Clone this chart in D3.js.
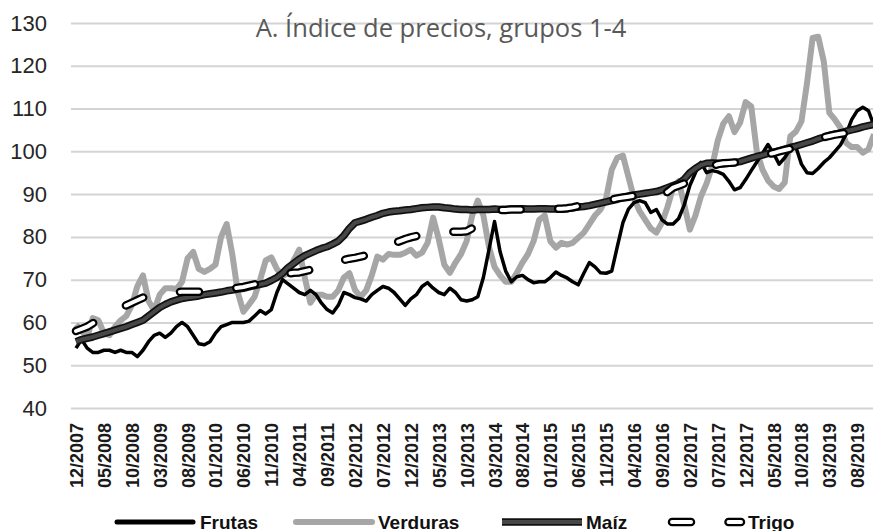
<!DOCTYPE html>
<html>
<head>
<meta charset="utf-8">
<script src="https://cdn.jsdelivr.net/npm/d3@7"></script>
<style>
  body { margin: 0; background: #fff; }
  svg { display: block; }
</style>
</head>
<body>
<script>
var w = 873;
var h = 531;

// ----- DATA -----
var title = "A. Índice de precios, grupos 1-4";

// categories: monthly, 12/2007 .. 11/2019
var startYear = 2007, startMonth = 12, nMonths = 144;
var months = [];
for (var k = 0; k < nMonths; k++) {
  var m = (startMonth - 1 + k) % 12 + 1;
  var yr = startYear + Math.floor((startMonth - 1 + k) / 12);
  months.push((m < 10 ? "0" + m : "" + m) + "/" + yr);
}

var tickLabels = ["12/2007", "05/2008", "10/2008", "03/2009", "08/2009", "01/2010",
  "06/2010", "11/2010", "04/2011", "09/2011", "02/2012", "07/2012", "12/2012",
  "05/2013", "10/2013", "03/2014", "08/2014", "01/2015", "06/2015", "11/2015",
  "04/2016", "09/2016", "02/2017", "07/2017", "12/2017", "05/2018", "10/2018",
  "03/2019", "08/2019"];

var yTicks = [40, 50, 60, 70, 80, 90, 100, 110, 120, 130];

var frutas = [
  54, 56, 54, 53, 53, 53.5, 53.5, 53, 53.5, 53,
  53, 52, 53.5, 55.5, 57, 57.5, 56.5, 57.5, 59, 60,
  59, 57, 55, 54.8, 55.5, 57.5, 59, 59.5, 60, 60,
  60, 60.3, 61.5, 62.8, 62, 63, 67, 70, 69, 68,
  67, 66.5, 67.5, 66.5, 64.5, 63, 62.2, 64, 67, 66.5,
  65.8, 65.5, 65, 66.5, 67.5, 68.4, 68, 67, 65.5, 64,
  65.5, 66.5, 68.4, 69.3, 68, 67, 66.5, 68, 67, 65.3,
  65, 65.3, 66, 70.5, 77, 83.6, 76.5, 72, 69.5, 70.7,
  71, 70, 69.3, 69.5, 69.5, 70.5, 71.8, 71, 70.4, 69.5,
  68.8, 71.5, 74, 73, 71.6, 71.5, 72, 77.7, 83.3, 86.5,
  88, 88.5, 88, 85.7, 86.4, 84, 83, 83, 84.3, 87.5,
  92, 95, 97.4, 95, 95.5, 95.2, 94.6, 93, 91, 91.5,
  93.4, 95.5, 97.5, 99.5, 101.6, 99.5, 97, 98.5, 100.5, 101,
  97, 95, 94.8, 96, 97.4, 98.5, 100, 101.5, 104, 107.4,
  109.5, 110.3, 109.5, 106
];

var verduras = [
  59.5, 58, 56.5, 61, 60.5, 57.5, 57, 59, 60.5, 61.5,
  64, 68.5, 71, 65, 62.8, 66.5, 68, 68, 67.8, 69.5,
  75, 76.5, 72.5, 71.8, 72.5, 73.5, 80, 83, 76, 67,
  62.5, 64.2, 66, 70, 74.5, 75.2, 72.5, 70.8, 71.6, 74.5,
  77, 70.5, 64.6, 66.5, 66.5, 66, 66, 67.5, 70.5, 71.5,
  67.6, 66, 67.5, 71, 75.4, 74.7, 76, 75.8, 75.8, 76.3,
  77, 75.6, 76.3, 78.6, 84.5, 79.5, 73.5, 71.6, 74, 76,
  79, 85, 88.5, 85, 77.7, 73, 71, 69.5, 69.5, 71.6,
  74, 76, 79, 84, 85, 79, 77.5, 78.6, 78.2, 78.6,
  79.8, 81, 83, 85, 86.4, 89, 95.7, 98.5, 99, 94,
  89, 86, 84, 82, 81, 83.3, 87, 91.5, 93, 87.5,
  81.7, 85, 89.5, 92.5, 96.5, 102.5, 106.5, 108.2, 104.5, 106.7,
  111.5, 110.5, 100, 95.8, 93.2, 91.8, 91.2, 92.7, 103.5, 104.6,
  107, 116, 126.5, 126.8, 121, 109, 107.4, 105.5, 102, 101,
  101, 99.7, 100.5, 104
];

var maiz = [
  55.5, 56, 56.3, 56.6, 57, 57.4, 57.8, 58.2, 58.6, 59,
  59.5, 60, 60.5, 61.5, 62.5, 63.5, 64.2, 64.8, 65.2, 65.6,
  65.8, 66, 66.2, 66.5, 66.7, 66.9, 67.1, 67.4, 67.6, 67.8,
  68, 68.3, 68.6, 68.9, 69.2, 69.8, 70.5, 71.5, 72.8, 73.8,
  74.8, 75.6, 76.2, 76.8, 77.3, 77.7, 78.3, 79, 80.3, 82,
  83.3, 83.7, 84.1, 84.6, 85, 85.5, 85.8, 86, 86.1, 86.3,
  86.4, 86.6, 86.8, 86.9, 87, 87, 86.8, 86.7, 86.5, 86.4,
  86.4, 86.3, 86.4, 86.4, 86.4, 86.5, 86.4, 86.4, 86.5, 86.5,
  86.6, 86.5, 86.5, 86.6, 86.6, 86.5, 86.5, 86.5, 86.6, 86.8,
  87, 87.1, 87.3, 87.6, 87.9, 88.2, 88.5, 88.8, 89.2, 89.5,
  89.8, 90, 90.2, 90.4, 90.6, 91, 91.5, 92, 92.5, 93.5,
  95, 96, 96.8, 97.2, 97.3, 97.2, 97.1, 97.2, 97.4, 97.6,
  98, 98.4, 98.8, 99.1, 99.5, 99.8, 100.1, 100.5, 100.9, 101.2,
  101.6, 102, 102.4, 102.9, 103.3, 103.7, 104, 104.3, 104.7, 105,
  105.3, 105.7, 106, 106.3
];

var trigo = [
  58, 58.5, 59, 59.8, 60.5, 61.5, 62.5, 63, 63.5, 64,
  64.6, 65.2, 65.8, 66.3, 66.5, 66.8, 67, 67, 67, 67.2,
  67.2, 67.2, 67.2, 67.2, 67.3, 67.5, 67.7, 67.9, 68, 68.1,
  68.3, 68.6, 68.9, 69.2, 69.4, 70, 70.5, 71, 71.4, 71.6,
  71.7, 72, 72.3, 72.6, 72.9, 73.3, 73.8, 74.2, 74.6, 74.9,
  75.1, 75.4, 75.7, 76, 76.3, 77, 77.8, 78.5, 79, 79.5,
  79.9, 80.2, 80.5, 80.8, 81, 81, 81.1, 81.2, 81.2, 81.2,
  81.3, 82, 83.5, 85, 86, 86.2, 86.3, 86.3, 86.4, 86.4,
  86.4, 86.4, 86.4, 86.5, 86.5, 86.5, 86.6, 86.6, 86.7, 86.9,
  87.2, 87.5, 87.8, 88.1, 88.3, 88.5, 88.7, 89, 89.2, 89.4,
  89.6, 89.4, 88.5, 89, 89.5, 90, 90.5, 91.5, 92, 92.5,
  93.5, 94.5, 95.3, 96, 96.5, 97, 97.2, 97.3, 97.4, 97.5,
  97.8, 98.2, 98.6, 99, 99.3, 99.6, 100, 100.3, 100.6, 101,
  101.5, 102, 102.5, 103, 103.3, 103.6, 103.9, 104.1, 104.3, 104.6,
  105, 105.3, 105.6, 105.9
];

var seriesNames = ["Frutas", "Verduras", "Maíz", "Trigo"];

// ----- LAYOUT -----
var plotLeft = 71, plotRight = 873;
var trigoDash = "19,37.5";

var svg = d3.select("body").append("svg")
  .attr("width", w)
  .attr("height", h)
  .style("background-color", "white");

var x = d3.scalePoint().domain(months).range([76, 874]);
var y = d3.scaleLinear().domain([40, 130]).range([408, 23]);

// GRID + Y AXIS
var yAxis = svg.append("g")
  .attr("transform", "translate(" + plotLeft + ",0)")
  .call(d3.axisLeft(y).tickValues(yTicks).tickSize(-(plotRight - plotLeft)).tickPadding(24));
yAxis.select(".domain").remove();
yAxis.selectAll(".tick line").attr("stroke", "#d4d4d4").attr("stroke-width", 2);
yAxis.selectAll(".tick text")
  .attr("fill", "#262626")
  .style("font-family", "'Liberation Sans', Arial, sans-serif")
  .style("font-size", "22px");

// X AXIS
var xAxis = svg.append("g")
  .attr("transform", "translate(0,408)")
  .call(d3.axisBottom(x).tickValues(tickLabels).tickSize(0));
xAxis.select(".domain").remove();
xAxis.selectAll(".tick text")
  .attr("transform", "rotate(-90)")
  .attr("x", -15)
  .attr("y", 0)
  .attr("dy", "0.36em")
  .attr("fill", "#1a1a1a")
  .style("text-anchor", "end")
  .style("font-family", "'Liberation Sans', Arial, sans-serif")
  .style("font-weight", "bold")
  .style("font-size", "18px");

// TITLE
svg.append("text")
  .attr("x", 441)
  .attr("y", 37)
  .attr("text-anchor", "middle")
  .attr("fill", "#595959")
  .style("font-family", "'Open Sans', sans-serif")
  .style("font-size", "25.5px")
  .text(title);

// LINES
var line = d3.line()
  .x(function(d, i) { return x(months[i]); })
  .y(function(d) { return y(d); });

var g = svg.append("g")
  .attr("fill", "none")
  .attr("stroke-linejoin", "round");

g.append("path").attr("d", line(verduras))
  .attr("stroke", "#a6a6a6").attr("stroke-width", 6);
g.append("path").attr("d", line(frutas))
  .attr("stroke", "#000").attr("stroke-width", 3.5);
g.append("path").attr("d", line(maiz))
  .attr("stroke", "#111").attr("stroke-width", 7.5);
g.append("path").attr("d", line(maiz))
  .attr("stroke", "#474747").attr("stroke-width", 4);
g.append("path").attr("d", line(trigo))
  .attr("stroke", "#000").attr("stroke-width", 8.5)
  .attr("stroke-linecap", "round").attr("stroke-dasharray", trigoDash);
g.append("path").attr("d", line(trigo))
  .attr("stroke", "#fff").attr("stroke-width", 4)
  .attr("stroke-linecap", "round").attr("stroke-dasharray", trigoDash);

// LEGEND
var legendY = 522;
var legendItems = [
  {name: seriesNames[0], x0: 117, x1: 193, tx: 200},
  {name: seriesNames[1], x0: 296, x1: 372, tx: 378},
  {name: seriesNames[2], x0: 502, x1: 582, tx: 586},
  {name: seriesNames[3], x0: 672, x1: 741, tx: 748}
];

var lg = svg.append("g");
function legLine(it, stroke, width, dash, cap) {
  var l = lg.append("line")
    .attr("x1", it.x0).attr("x2", it.x1)
    .attr("y1", legendY).attr("y2", legendY)
    .attr("stroke", stroke).attr("stroke-width", width)
    .attr("stroke-linecap", cap || "butt");
  if (dash) l.attr("stroke-dasharray", dash);
}
legLine(legendItems[0], "#000", 5, null, "round");
legLine(legendItems[1], "#a6a6a6", 6, null, "round");
legLine(legendItems[2], "#111", 7.5);
legLine(legendItems[2], "#474747", 4);
legLine(legendItems[3], "#000", 8.5, trigoDash, "round");
legLine(legendItems[3], "#fff", 4, trigoDash, "round");

lg.selectAll("text")
  .data(legendItems)
  .enter().append("text")
  .attr("x", function(d) { return d.tx; })
  .attr("y", legendY + 6.5)
  .attr("fill", "#111")
  .style("font-family", "'Liberation Sans', Arial, sans-serif")
  .style("font-weight", "bold")
  .style("font-size", "19px")
  .text(function(d) { return d.name; });
</script>
</body>
</html>
